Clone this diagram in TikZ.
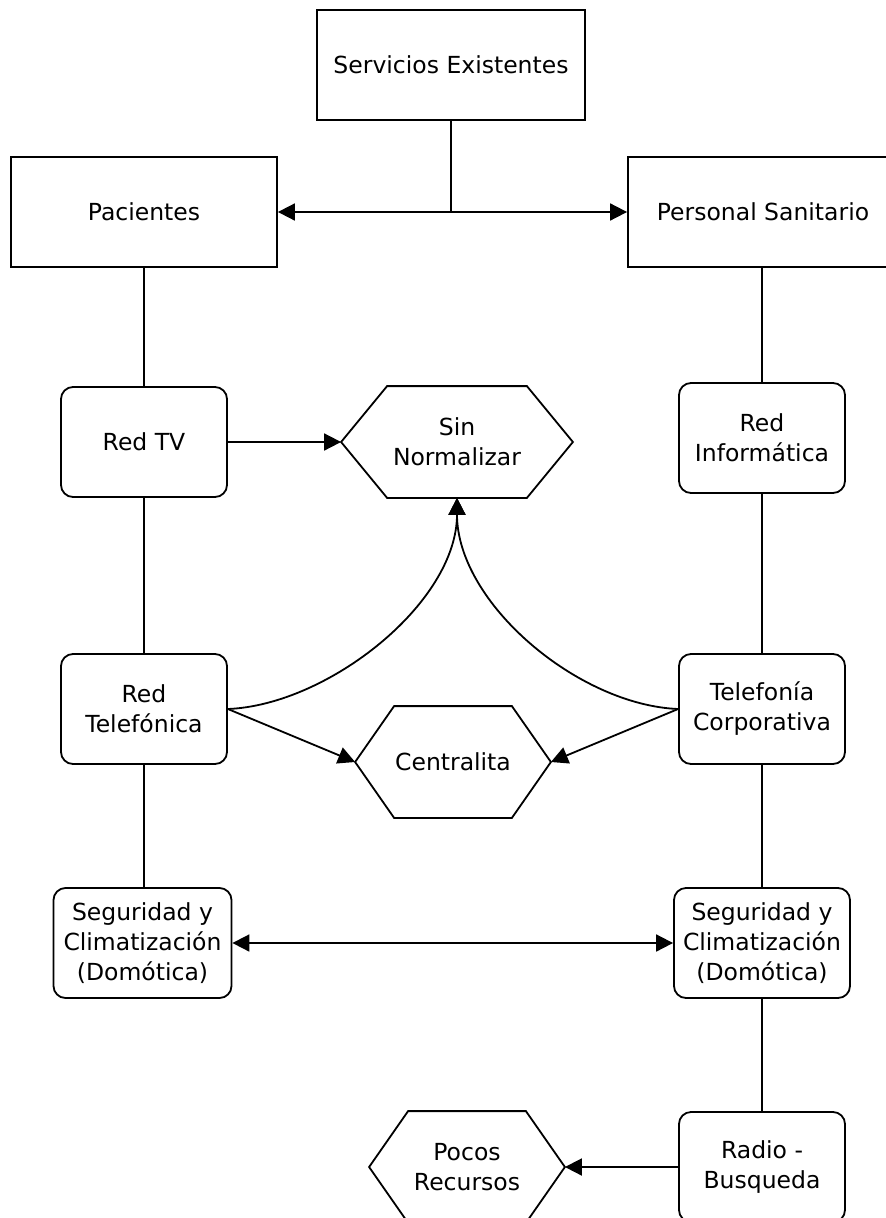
\documentclass[tikz,border=0pt]{standalone}
\usepackage{fontspec}
\setmainfont{DejaVu Sans}
\usetikzlibrary{arrows.meta}
\tikzset{
  sqbox/.style={draw, rectangle, inner sep=0pt, align=center, minimum height=110pt, fill=white},
  rbox/.style={draw, rectangle, rounded corners=12pt, inner sep=0pt, align=center, minimum width=166pt, minimum height=110pt, fill=white},
  hexnode/.style={rectangle, inner sep=0pt, align=center, minimum height=110pt}
}
\newcommand\drawhex[2]{\draw (#1.west) -- ([xshift=#2]#1.north west) -- ([xshift=-#2]#1.north east) -- (#1.east) -- ([xshift=-#2]#1.south east) -- ([xshift=#2]#1.south west) -- cycle;}
\begin{document}
\begin{tikzpicture}[x=1pt, y=-1pt, line width=1.8pt,
  >={Triangle[length=17pt,width=17pt]},
  font=\fontsize{23.5}{30}\selectfont]
\useasboundingbox (0,0) rectangle (886,1218);
\clip (0,0) rectangle (886,1218);
\fill[white] (0,0) rectangle (886,1218);

% nodes
\node[sqbox, minimum width=268pt] (serv) at (451,65) {Servicios Existentes};
\node[sqbox, minimum width=266pt] (pac) at (144,212) {Pacientes};
\node[sqbox, minimum width=270pt] (pers) at (763,212) {Personal Sanitario};

\node[rbox] (tv) at (144,442) {Red TV};
\node[rbox] (inf) at (762,438) {Red\\Informática};
\node[rbox] (tel) at (144,709) {Red\\Telefónica};
\node[rbox] (corp) at (762,709) {Telefonía\\Corporativa};
\node[rbox, minimum width=178pt] (segl) at (142.5,943) {Seguridad y\\Climatización\\(Domótica)};
\node[rbox, minimum width=176pt] (segr) at (762,943) {Seguridad y\\Climatización\\(Domótica)};
\node[rbox] (radio) at (762,1167) {Radio -\\Busqueda};

\node[hexnode, minimum width=230pt] (sin) at (457,442) {Sin\\Normalizar};
\node[hexnode, minimum width=194pt] (cen) at (453,762) {Centralita};
\node[hexnode, minimum width=194pt] (poc) at (467,1167) {Pocos\\Recursos};
\drawhex{sin}{46pt}
\drawhex{cen}{39pt}
\drawhex{poc}{39pt}

% connectors
\coordinate (j) at (serv.south |- pac.east);
\draw (serv.south) -- (j);
\draw[->] (j) -- (pac.east);
\draw[->] (j) -- (pers.west);

\draw (pac.south) -- (tv.north);
\draw (tv.south) -- (tel.north);
\draw (tel.south) -- (tel.south |- segl.north);

\draw (inf.north |- pers.south) -- (inf.north);
\draw (inf.south) -- (corp.north);
\draw (corp.south) -- (segr.north);
\draw (segr.south) -- (radio.north);

\draw[->] (tv.east) -- (sin.west);
\draw[->] (tel.east) .. controls +(100,-4) and +(0,105) .. (sin.south);
\draw[->] (corp.west) .. controls +(-100,-4) and +(0,105) .. (sin.south);
\draw[->] (tel.east) -- (cen.west);
\draw[->] (corp.west) -- (cen.east);
\draw[<->] (segl.east) -- (segr.west);
\draw[->] (radio.west) -- (poc.east);
\end{tikzpicture}
\end{document}
